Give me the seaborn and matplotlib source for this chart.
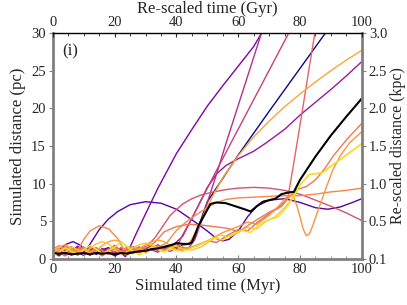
import pandas as pd
import seaborn as sns
import matplotlib.pyplot as plt
from matplotlib.ticker import MultipleLocator

# ---- data (time in Myr, distance in pc) ----
navy_t = [0, 2, 4, 6, 8, 10, 12, 14, 16, 18, 20, 22, 24, 26, 28, 30, 32, 34, 36, 38, 40, 42, 44,
          46, 50, 55, 60, 70, 80, 90]
navy_d = [1.0, 0.5, 1.3, 0.7, 1.5, 0.9, 1.4, 0.6, 1.2, 1.5, 0.7, 1.3, 1.0, 1.6, 0.9, 1.4, 1.7, 1.1, 1.6, 1.9, 1.4, 1.8, 2.0,
          3.0, 7.6, 10.7, 13.8, 19.6, 25.3, 31.0]

violet_t = [0, 2, 4, 6.5, 9, 10.5, 13, 15, 18, 21, 25, 30, 35, 40, 45, 50, 53, 55, 57, 60, 63, 66, 70, 75,
            80, 85, 89, 93, 97, 100]
violet_d = [0.6, 1.2, 1.9, 2.3, 1.8, 1.0, 2.6, 3.9, 5.3, 6.3, 7.2, 7.6, 7.4, 6.6, 5.2, 3.7, 2.7, 2.4, 2.6, 3.7, 5.6, 7.0, 7.8, 8.0,
            7.5, 6.8, 6.6, 6.9, 7.5, 8.0]

steep_t = [0, 2, 4, 6, 8, 10, 12, 14, 16, 18, 20, 22, 23.5, 25, 27, 30, 34, 40, 45, 50, 55, 60, 65, 68]
steep_d = [0.9, 0.4, 1.1, 1.6, 0.8, 0.5, 1.2, 0.7, 1.4, 0.9, 0.4, 0.8, 0.3, 1.6, 3.4, 6.0, 9.4, 14.0, 17.2, 20.3, 23.0, 25.6, 28.2, 30.3]

purple_t = [0, 2, 4, 6, 8, 10, 12, 14, 16, 18, 20, 22, 24, 26, 28, 30, 32, 34, 36,
            38, 42, 46, 50, 53, 56, 60, 65, 69, 75, 80, 85, 90, 95, 100]
purple_d = [0.7, 1.3, 0.6, 1.0, 1.7, 1.1, 0.5, 1.3, 0.9, 1.5, 0.8, 1.2, 0.6, 1.4, 1.0, 1.6, 1.2, 1.8, 1.3,
            1.5, 3.0, 6.2, 9.5, 11.3, 12.4, 13.3, 14.3, 15.4, 17.2, 19.1, 20.8, 22.5, 24.3, 26.2]

mag1_t = [0, 2, 4, 6, 8, 10, 12, 14, 16, 18, 20, 22, 24, 26, 28, 30, 32, 34, 36,
          38, 42, 44, 46, 48, 50, 53, 56, 60, 64, 68]
mag1_d = [1.2, 0.6, 1.5, 1.0, 0.5, 1.1, 1.7, 0.9, 1.3, 0.6, 1.0, 1.4, 0.8, 1.5, 1.1, 1.7, 1.2, 0.9, 1.6,
          1.4, 1.2, 1.5, 2.6, 4.9, 7.5, 11.3, 15.3, 20.4, 25.5, 30.6]

mag2_t = [0, 2, 4, 6, 8, 10, 12, 14, 16, 18, 20, 22, 24, 26, 28, 30, 32, 34, 36,
          38, 40, 42, 45, 48, 52, 57, 62, 67, 72, 77]
mag2_d = [0.4, 1.0, 1.6, 0.9, 1.2, 0.6, 1.0, 1.5, 0.7, 1.1, 1.8, 1.0, 0.6, 1.2, 1.6, 1.0, 1.4, 1.9, 1.3,
          1.0, 1.5, 3.2, 5.4, 7.8, 11.0, 14.9, 18.8, 22.7, 26.6, 30.5]

pink_t = [0, 2, 4, 6, 8, 10, 12, 14, 16, 18, 20, 22, 24, 26, 28,
          30, 33, 36, 38, 42, 45, 48, 52, 56, 60, 65, 70, 75, 80, 85, 90, 95, 100]
pink_d = [0.8, 1.4, 0.9, 0.5, 1.2, 1.6, 0.8, 1.1, 0.5, 1.3, 0.9, 1.5, 1.0, 0.7, 1.4,
          1.5, 2.8, 4.6, 5.8, 7.3, 8.0, 8.5, 8.9, 9.2, 9.4, 9.5, 9.4, 9.1, 8.6, 7.8, 7.0, 6.1, 5.1]

red_t = [0, 2, 4, 6, 8, 10, 12, 14, 16, 18, 20, 22, 24, 26, 28, 30, 32, 34, 36, 38, 40, 42, 44,
         47, 50, 53, 56, 60, 63, 66, 70, 74, 76, 78, 80, 82, 84, 86]
red_d = [1.5, 0.8, 0.4, 1.0, 1.4, 0.7, 1.2, 0.9, 0.4, 1.1, 1.5, 0.8, 1.3, 1.0, 1.6, 0.9, 1.3, 1.8, 1.2, 1.6, 2.0, 1.5, 1.4,
         1.8, 2.4, 2.2, 3.0, 3.9, 3.7, 4.8, 6.0, 7.0, 8.0, 12.8, 17.8, 22.9, 28.0, 33.0]

coral_t = [0, 2, 4, 6, 8, 10, 12, 14, 16, 18, 20, 22, 24, 26, 28, 30,
           33, 36, 40, 44, 48, 52, 56, 58, 60, 63, 66, 70, 73, 76, 79, 82, 85, 88, 91, 95, 100]
coral_d = [0.6, 1.1, 1.7, 1.2, 0.7, 1.3, 0.9, 1.5, 1.1, 0.6, 1.4, 1.0, 1.6, 1.2, 0.8, 1.5,
           2.2, 3.6, 4.3, 4.6, 4.5, 4.3, 4.1, 3.9, 3.6, 4.4, 5.2, 6.2, 6.8, 8.0, 9.2, 9.6, 10.5, 12.0, 13.8, 15.8, 18.0]

orange_t = [0, 2, 4, 6, 8, 10, 12, 15, 18, 21, 23, 25, 28, 31, 34, 37, 40, 44, 48, 52, 56, 60, 65, 70, 75,
            80, 85, 90, 95, 100]
orange_d = [0.5, 1.0, 1.4, 0.9, 1.1, 2.6, 3.7, 4.4, 4.0, 2.7, 1.2, 1.6, 1.2, 1.8, 1.5, 2.2, 3.8, 5.2, 6.3, 7.3, 7.9, 8.1, 8.2, 8.3, 8.4,
            8.4, 8.6, 8.9, 9.1, 9.4]

dip_t = [0, 2, 4, 6, 8, 10, 12, 14, 16, 18, 20, 22, 24, 26, 28, 30, 32, 34, 36, 38,
         40, 45, 50, 55, 60, 63, 66, 70, 73, 76, 77.7, 79, 80, 81, 82, 83, 84, 86.3, 88.5, 90.6, 93, 96, 100]
dip_d = [1.3, 1.8, 1.2, 0.6, 1.0, 1.5, 0.9, 1.3, 0.7, 1.2, 1.6, 1.0, 0.5, 1.1, 1.4, 0.8, 1.3, 1.7, 1.0, 1.4,
         1.2, 1.6, 2.4, 3.5, 4.3, 4.9, 4.6, 5.8, 7.0, 8.4, 8.5, 7.0, 5.6, 4.0, 3.1, 3.3, 4.3, 7.0, 9.5, 11.8, 13.7, 15.4, 16.9]

amber_t = [0, 2, 4, 6, 8, 10, 12, 14, 16, 18, 20, 22, 24, 26, 28, 30, 32, 34, 36, 38, 40, 42, 44,
           47, 50, 55, 60, 65, 70, 75, 80, 85, 90, 95, 100]
amber_d = [1.0, 1.6, 1.9, 1.4, 0.7, 1.3, 0.6, 1.0, 1.8, 2.3, 2.5, 2.3, 1.6, 0.8, 1.4, 1.9, 2.3, 2.5, 2.3, 1.8, 1.2, 1.7, 2.0,
           4.0, 7.0, 10.8, 13.7, 16.2, 18.3, 20.2, 21.9, 23.5, 25.0, 26.4, 27.7]

gold_t = [0, 2, 4, 6, 8, 10, 12, 14, 16, 18, 20, 22, 24, 26, 28, 30, 32, 34, 36, 38, 40, 42,
          45, 48, 51, 54, 57, 60, 63, 66, 69, 72, 75, 78, 80, 83, 85, 87.5, 90, 95, 100]
gold_d = [0.8, 1.3, 0.9, 1.6, 1.2, 0.7, 1.4, 2.0, 2.3, 2.0, 1.3, 0.6, 1.0, 1.5, 1.9, 2.1, 1.9, 1.4, 1.0, 1.5, 1.7, 1.3,
          1.2, 1.6, 2.4, 3.2, 2.9, 3.5, 4.2, 4.0, 5.0, 5.6, 6.8, 8.2, 9.8, 11.2, 11.3, 11.5, 12.3, 13.8, 15.3]

yellow_t = [0, 2, 4, 6, 8, 10, 12, 14, 16, 18, 20, 22, 24, 26, 28, 30, 32, 34, 36, 38, 40, 42,
            44, 48, 52, 55, 58, 61, 64, 67, 70, 73, 76, 78, 80, 83, 85, 87.5, 90, 95, 100]
yellow_d = [0.4, 0.9, 1.5, 1.0, 0.6, 1.2, 1.8, 1.3, 0.7, 1.1, 1.6, 2.2, 1.7, 1.0, 0.5, 1.1, 1.6, 1.2, 0.9, 1.4, 1.1, 1.0,
            1.3, 2.0, 2.8, 2.5, 3.3, 3.8, 3.5, 4.7, 5.2, 5.6, 7.0, 8.5, 9.8, 11.2, 11.3, 11.5, 12.3, 13.8, 15.3]

mean_t = [0, 2, 4, 6, 8, 10, 12, 14, 16, 18, 20, 22, 24, 26, 28, 30, 32, 34, 36, 38, 40, 42, 44, 45,
          47, 49, 51, 53, 56, 59, 62, 64, 66, 68, 70, 72, 74, 76, 78, 80, 85, 90, 95, 100]
mean_d = [0.8, 0.7, 0.8, 0.6, 0.7, 0.8, 0.6, 0.8, 0.7, 0.8, 0.6, 0.8, 0.7, 0.9, 1.0, 1.1, 1.3, 1.4, 1.6, 1.8, 2.1, 2.0, 2.0, 2.2,
          4.3, 5.8, 7.3, 7.5, 7.4, 7.0, 6.6, 6.3, 7.0, 7.6, 7.8, 8.0, 8.6, 8.8, 8.9, 10.5, 13.6, 16.4, 18.9, 21.3]

right_labels = ["0.1", "0.5", "1.0", "1.5", "2.0", "2.5", "3.0"]

runs = [
    ("navy", "#0d0887", navy_t, navy_d),
    ("violet", "#5c01a6", violet_t, violet_d),
    ("steep", "#7e03a8", steep_t, steep_d),
    ("purple", "#9c179e", purple_t, purple_d),
    ("mag1", "#b52f8c", mag1_t, mag1_d),
    ("mag2", "#c5407e", mag2_t, mag2_d),
    ("pink", "#d5536f", pink_t, pink_d),
    ("red", "#e5636a", red_t, red_d),
    ("coral", "#ed7953", coral_t, coral_d),
    ("orange", "#f48849", orange_t, orange_d),
    ("dip", "#f89540", dip_t, dip_d),
    ("amber", "#fca636", amber_t, amber_d),
    ("gold", "#fdc328", gold_t, gold_d),
    ("yellow", "#f5e21e", yellow_t, yellow_d),
]

frames = []
for name, col, t, d in runs:
    frames.append(pd.DataFrame({"t": t, "d": d, "run": name}))
df = pd.concat(frames, ignore_index=True)
palette = {name: col for name, col, _, _ in runs}

sns.set_style("white")
plt.rcParams["font.family"] = ["Liberation Serif", "DejaVu Serif"]

fig = plt.figure(figsize=(4.07, 3.05), dpi=100)
ax = fig.add_axes([0.130, 0.151, 0.759, 0.741])

sns.lineplot(data=df, x="t", y="d", hue="run", palette=palette, estimator=None,
             sort=False, legend=False, lw=1.0, ax=ax)
sns.lineplot(x=mean_t, y=mean_d, color="black", lw=1.5, estimator=None, sort=False, ax=ax)

ax.set_xlim(0, 100)
ax.set_ylim(0, 30)
ax.xaxis.set_major_locator(MultipleLocator(20))
ax.xaxis.set_minor_locator(MultipleLocator(5))
ax.yaxis.set_major_locator(MultipleLocator(5))
ax.tick_params(axis="x", which="major", direction="in", length=3, labelsize=10.5, pad=3, color="#808080")
ax.tick_params(axis="x", which="minor", direction="in", length=2, color="#808080")
ax.tick_params(axis="y", direction="out", length=3, labelsize=10.5, pad=2, color="#808080")
ax.set_xlabel("Simulated time (Myr)", fontsize=12, labelpad=1)
ax.set_ylabel("Simulated distance (pc)", fontsize=12, labelpad=4)
ax.text(5.5, 27.5, "(i)", fontsize=12, ha="center", va="center")

for s in ["left", "bottom"]:
    ax.spines[s].set_color("#808080")
    ax.spines[s].set_linewidth(2)
ax.spines["right"].set_visible(False)
ax.spines["top"].set_visible(False)

ax2 = ax.twinx()
ax2.set_ylim(0, 30)
ax2.set_yticks([0, 5, 10, 15, 20, 25, 30])
ax2.set_yticklabels(right_labels)
ax2.tick_params(axis="y", direction="out", length=3, labelsize=10.5, pad=2, color="#808080")
ax2.set_ylabel("Re-scaled distance (kpc)", fontsize=11.5, labelpad=2)
for s in ["left", "top", "bottom"]:
    ax2.spines[s].set_visible(False)
ax2.spines["right"].set_color("#808080")
ax2.spines["right"].set_linewidth(2)

ax3 = ax.twiny()
ax3.set_xlim(0, 100)
ax3.xaxis.set_major_locator(MultipleLocator(20))
ax3.xaxis.set_minor_locator(MultipleLocator(5))
ax3.tick_params(axis="x", which="major", direction="in", length=3, labelsize=10.5, pad=3)
ax3.tick_params(axis="x", which="minor", direction="in", length=2)
ax3.set_xlabel("Re-scaled time (Gyr)", fontsize=12, labelpad=2)
for s in ["left", "right", "bottom"]:
    ax3.spines[s].set_visible(False)
ax3.spines["top"].set_color("black")
ax3.spines["top"].set_linewidth(1.0)

fig.savefig("out.png", dpi=100)
